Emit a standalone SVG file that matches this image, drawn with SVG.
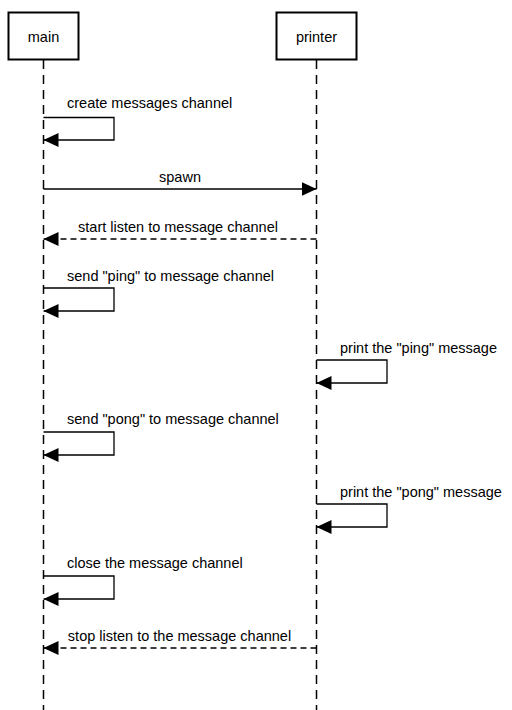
<svg xmlns="http://www.w3.org/2000/svg" width="512" height="710" viewBox="0 0 512 710">
<style>
.box{fill:#fff;stroke:#000;stroke-width:2}
.life{stroke:#000;stroke-width:1.5;stroke-dasharray:9,6;fill:none}
.msg{stroke:#000;stroke-width:1.3;fill:none}
.dash{stroke-dasharray:6,4}
text{font-family:"Liberation Sans",Arial,Helvetica,sans-serif;font-size:14.5px;fill:#000}
.c{text-anchor:middle}
</style>
<defs>
<marker id="ah" viewBox="0 0 15 14" refX="15" refY="7" markerWidth="15" markerHeight="14" markerUnits="userSpaceOnUse" orient="auto">
<path d="M0,0 L15,7 L0,14 Z" fill="#000"/>
</marker>
</defs>
<g id="lifelines">
<line class="life" x1="43.5" y1="60" x2="43.5" y2="710"/>
<line class="life" x1="316.5" y1="60" x2="316.5" y2="710"/>
</g>
<g id="main">
<rect class="box" x="8.5" y="12.5" width="70" height="47"/>
<text class="c" x="43.5" y="41.5">main</text>
</g>
<g id="printer">
<rect class="box" x="276.5" y="12.5" width="80" height="47"/>
<text class="c" x="316.5" y="41.5">printer</text>
</g>
<g id="connectors">
<path class="msg" d="M43.5,117.5 H114 V140 H43.5" marker-end="url(#ah)"/>
<text x="67" y="108">create messages channel</text>
<path class="msg" d="M43.5,189 H316.5" marker-end="url(#ah)"/>
<text class="c" x="180" y="181.5">spawn</text>
<path class="msg dash" d="M316.5,239 H43.5" marker-end="url(#ah)"/>
<text class="c" x="178" y="231.5">start listen to message channel</text>
<path class="msg" d="M43.5,288 H114 V311 H43.5" marker-end="url(#ah)"/>
<text x="67" y="280.5">send "ping" to message channel</text>
<path class="msg" d="M316.5,360 H387 V383 H316.5" marker-end="url(#ah)"/>
<text x="340" y="352.5">print the "ping" message</text>
<path class="msg" d="M43.5,432 H114 V455 H43.5" marker-end="url(#ah)"/>
<text x="67" y="424">send "pong" to message channel</text>
<path class="msg" d="M316.5,504 H387 V527 H316.5" marker-end="url(#ah)"/>
<text x="340" y="496.5">print the "pong" message</text>
<path class="msg" d="M43.5,576 H114 V599 H43.5" marker-end="url(#ah)"/>
<text x="67" y="567.5">close the message channel</text>
<path class="msg dash" d="M316.5,648 H43.5" marker-end="url(#ah)"/>
<text class="c" x="179.5" y="641">stop listen to the message channel</text>
</g>
</svg>
